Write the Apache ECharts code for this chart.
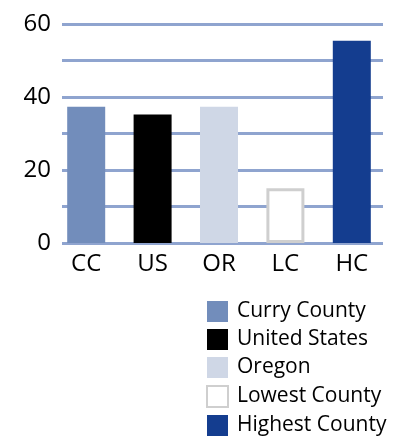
<!DOCTYPE html>
<html>
<head>
<meta charset="utf-8">
<script src="https://cdn.jsdelivr.net/npm/echarts@6/dist/echarts.min.js"></script>
<style>html,body{margin:0;padding:0;background:#fff;}#c{width:404px;height:436px;}</style>
</head>
<body>
<div id="c"></div>
<script>
var categories = ['CC', 'US', 'OR', 'LC', 'HC'];
var seriesNames = ['Curry County', 'United States', 'Oregon', 'Lowest County', 'Highest County'];
var values = [37.3, 35.2, 37.3, 15, 55.4];
var yTicks = [0, 20, 40, 60];

var colors = ['#728dbb', '#000000', '#cfd7e6', '#ffffff', '#143d8f'];
var font = 'Open Sans';

var series = seriesNames.map(function (name, i) {
  var data = categories.map(function (c, j) { return j === i ? values[i] : '-'; });
  var style = { color: colors[i] };
  if (i === 3) { style.borderColor = '#cfcfcf'; style.borderWidth = 3; }
  return {
    name: name, type: 'bar', stack: 'all', barWidth: 38,
    xAxisIndex: 1, yAxisIndex: 1, data: data, itemStyle: style
  };
});

var chart = echarts.init(document.getElementById('c'), null, { renderer: 'canvas' });
chart.setOption({
  animation: false,
  textStyle: { fontFamily: font },
  grid: [
    { left: 62, right: 21, top: 24, bottom: 193 },
    { left: 53, right: 19, top: 24, bottom: 193 }
  ],
  xAxis: [
    { gridIndex: 0, type: 'value', show: false, min: 0, max: 1 },
    { gridIndex: 1, type: 'category', data: categories,
      axisLine: { show: false }, axisTick: { show: false },
      axisLabel: { color: '#000', fontSize: 24, fontFamily: font, margin: 9 } }
  ],
  yAxis: [
    { gridIndex: 0, type: 'value', min: 0, max: 60, interval: 10,
      axisLine: { show: false }, axisTick: { show: false },
      axisLabel: { color: '#000', fontSize: 24, fontFamily: font, margin: 11,
        formatter: function (v) { return yTicks.indexOf(v) >= 0 ? String(v) : ''; } },
      splitLine: { show: true, lineStyle: { color: '#8fa4cf', width: 3 } } },
    { gridIndex: 1, type: 'value', min: 0, max: 60, show: false, splitLine: { show: false } }
  ],
  legend: {
    orient: 'vertical', left: 206, top: 301, padding: 0,
    itemWidth: 21, itemHeight: 21, itemGap: 7,
    icon: 'rect',
    textStyle: { fontSize: 21, fontFamily: font, color: '#000', lineHeight: 21, padding: [0, 0, 0, 4] },
    data: seriesNames
  },
  series: series
});
</script>
</body>
</html>
